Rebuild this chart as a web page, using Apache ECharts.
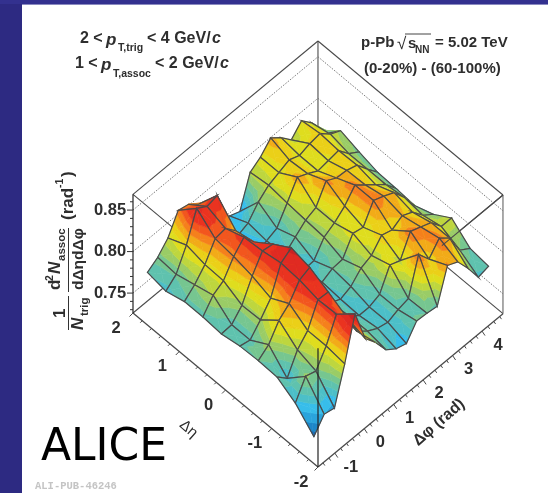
<!DOCTYPE html>
<html><head><meta charset="utf-8">
<style>html,body{margin:0;padding:0;background:#fff}#c{width:548px;height:493px}</style>
<script src="https://cdn.jsdelivr.net/npm/echarts@6/dist/echarts.min.js"></script>
</head><body><div id="c"></div>
<script>
// ---- data ----
var etaValues = [1.8,1.4,1.0,0.6,0.2,-0.2,-0.6,-1.0,-1.4,-1.8];
var phiValues = [-1.396,-1.047,-0.698,-0.349,0,0.349,0.698,1.047,1.396,1.745,2.094,2.443,2.793,3.142,3.491,3.84,4.189,4.538];
var zEta0 = [.779,.787,.800,.823,.820,.810,.785,.768,.765,.760,.797,.805,.818,.808,.795,.808,.795,.771];
var zEta1 = [.775,.785,.810,.844,.836,.839,.777,.770,.775,.790,.800,.805,.810,.805,.809,.811,.800,.794];
var zEta2 = [.781,.791,.805,.826,.828,.815,.775,.768,.772,.777,.797,.818,.812,.805,.807,.809,.795,.787];
var zEta3 = [.781,.797,.804,.823,.836,.820,.780,.772,.775,.785,.795,.800,.822,.815,.814,.810,.795,.781];
var zEta4 = [.779,.780,.793,.818,.838,.836,.790,.775,.774,.775,.793,.800,.810,.825,.815,.805,.795,.780];
var zEta5 = [.783,.780,.794,.810,.842,.850,.800,.778,.778,.784,.785,.806,.803,.825,.820,.814,.798,.778];
var zEta6 = [.784,.793,.812,.822,.840,.845,.800,.782,.776,.781,.793,.798,.812,.808,.815,.809,.795,.786];
var zEta7 = [.783,.771,.795,.808,.835,.834,.800,.785,.775,.775,.780,.805,.800,.825,.820,.815,.800,.800];
var zEta8 = [.770,.792,.788,.808,.836,.822,.795,.785,.778,.775,.780,.783,.826,.810,.825,.815,.790,.782];
var zEta9 = [.748,.765,.762,.805,.855,.815,.800,.781,.772,.768,.785,.784,.782,.821,.815,.797,.776,.779];
var zRows = [zEta0,zEta1,zEta2,zEta3,zEta4,zEta5,zEta6,zEta7,zEta8,zEta9];
var zTicks = [0.75,0.80,0.85];
var etaTicks = [2,1,0,-1,-2];
var phiTicks = [-1,0,1,2,3,4];
var bandLevels = [.752,.758,.765,.772,.778,.784,.790,.796,.802,.808,.814,.820,.826,.832,.840,.848];
var bandColors = ['#1668b0','#1d86c8','#2aa4dc','#37bdea','#4cbfc8','#5fc2ae','#76c690','#9acc66','#bed63e','#dfdd1e','#ebd018','#f2ab18','#f5801c','#f2561e','#ea3320','#e02a22','#c92323'];

// ---- scene scales (data to picture) ----
var etaMax=2, phiMin=-Math.PI/2, zMin=0.726, zMax=0.869;
function project(eta,phi,z){
  var a=etaMax-eta, b=phi-phiMin;
  return [133+a*46.25+b*29.44, 313+a*38.5-b*24.4-(z-zMin)*830];
}
var phiMax=phiMin+2*Math.PI, etaMin=-2;
var ink='#4a4a4a', textInk='#2e2e2e';
function seg(api,a,b,o){
  var p=api.coord(a),q=api.coord(b);
  return {type:'line',shape:{x1:p[0],y1:p[1],x2:q[0],y2:q[1]},style:{stroke:(o&&o.c)||ink,lineWidth:(o&&o.w)||1.1,lineDash:o&&o.d}};
}
// clip a polygon with per-vertex z to lo<=z<=hi
function clip(poly,lo,hi){
  function cut(pts,lim,keepAbove){
    var out=[];
    for(var k=0;k<pts.length;k++){
      var A=pts[k],B=pts[(k+1)%pts.length];
      var ia=keepAbove?A[2]>=lim:A[2]<=lim, ib=keepAbove?B[2]>=lim:B[2]<=lim;
      if(ia)out.push(A);
      if(ia!==ib){var t=(lim-A[2])/(B[2]-A[2]);out.push([A[0]+t*(B[0]-A[0]),A[1]+t*(B[1]-A[1]),lim]);}
    }
    return out;
  }
  var r=poly;
  if(lo!==null)r=cut(r,lo,true);
  if(r.length&&hi!==null)r=cut(r,hi,false);
  return r;
}
var cells=[];
for(var ci=0;ci<etaValues.length-1;ci++)for(var cj=phiValues.length-2;cj>=0;cj--)cells.push([ci,cj]);

function renderCell(params,api){
  var i=api.value(0),j=api.value(1);
  var corners=[[i,j],[i+1,j],[i+1,j+1],[i,j+1]];
  var quad=corners.map(function(c){
    var z=zRows[c[0]][c[1]];
    var s=api.coord(project(etaValues[c[0]],phiValues[c[1]],z));
    return [s[0],s[1],z];
  });
  var kids=[];
  var cx=(quad[0][0]+quad[1][0]+quad[2][0]+quad[3][0])/4, cy=(quad[0][1]+quad[1][1]+quad[2][1]+quad[3][1])/4, cz=(quad[0][2]+quad[1][2]+quad[2][2]+quad[3][2])/4;
  var tris=[];
  for(var k=0;k<4;k++)tris.push([quad[k],quad[(k+1)%4],[cx,cy,cz]]);
  tris.forEach(function(t){
    for(var b=0;b<bandColors.length;b++){
      var lo=b===0?null:bandLevels[b-1], hi=b===bandColors.length-1?null:bandLevels[b];
      var pg=clip(t,lo,hi);
      if(pg.length>=3){
        kids.push({type:'polygon',shape:{points:pg.map(function(p){return [p[0],p[1]];})},
          style:{fill:bandColors[b],stroke:bandColors[b],lineWidth:0.6}});
      }
    }
  });
  kids.push({type:'polygon',shape:{points:quad.map(function(p){return [p[0],p[1]];})},style:{fill:'none',stroke:'#4a4a4a',lineWidth:1.2}});
  return {type:'group',children:kids};
}
function renderBack(params,api){
  var k=[];
  var L=project(etaMax,phiMin,zMin),Lt=project(etaMax,phiMin,zMax);
  var B=project(etaMax,phiMax,zMin),Bt=project(etaMax,phiMax,zMax);
  var R=project(etaMin,phiMax,zMin),Rt=project(etaMin,phiMax,zMax);
  var Ft=project(etaMin,phiMin,zMax);
  k.push(seg(api,Lt,Bt),seg(api,Bt,Rt),seg(api,B,Bt),seg(api,L,B),seg(api,B,R));
  k.push(seg(api,Lt,Ft),seg(api,Rt,Ft));
  zTicks.forEach(function(z){
    k.push(seg(api,project(etaMax,phiMin,z),project(etaMax,phiMax,z),{c:'#777',w:1,d:[1.5,1.5]}));
    k.push(seg(api,project(etaMax,phiMax,z),project(etaMin,phiMax,z),{c:'#777',w:1,d:[1.5,1.5]}));
  });
  return {type:'group',children:k};
}
function label(api,text,a,dx,dy,size,o){
  var p=api.coord(a);
  o=o||{};
  return {type:'text',x:p[0]+dx,y:p[1]+dy,rotation:o.rot||0,style:{text:text,fill:o.c||textInk,font:(o.font||'bold')+' '+size+'px "Liberation Sans", Arial, sans-serif',align:o.align||'center',verticalAlign:'middle'}};
}
function renderFront(params,api){
  var k=[];
  var L=project(etaMax,phiMin,zMin),F=project(etaMin,phiMin,zMin),R=project(etaMin,phiMax,zMin);
  var Lt=project(etaMax,phiMin,zMax),Rt=project(etaMin,phiMax,zMax),Ft=project(etaMin,phiMin,zMax);
  k.push(seg(api,L,F,{w:1.3}),seg(api,F,R,{w:1.3}));
  k.push(seg(api,Lt,L,{c:'#222',w:1.2}),seg(api,Ft,F,{c:'#222',w:1.2}),seg(api,Rt,R,{c:'#555',w:1}));
  k.push(seg(api,Rt,[Rt[0]+(Ft[0]-Rt[0])*0.33,Rt[1]+(Ft[1]-Rt[1])*0.33]));
  for(var m=0;m<=14;m++){
    var z=0.73+m*0.01;
    if(z>zMax)break;
    var major=m%5===2;
    var p=project(etaMax,phiMin,z);
    k.push(seg(api,p,[p[0]-(major?6:3),p[1]],{c:'#333',w:1}));
  }
  zTicks.forEach(function(z){k.push(label(api,z.toFixed(2),project(etaMax,phiMin,z),-23,0,16.5));});
  for(var e=-10;e<=10;e++){
    var pe=project(e*0.2,phiMin,zMin),maj=e%5===0;
    k.push(seg(api,pe,[pe[0]-(maj?3.5:2),pe[1]+(maj?3.5:2)],{w:1}));
  }
  etaTicks.forEach(function(e){k.push(label(api,String(e),project(e,phiMin,zMin),-17,15,16.5));});
  for(var f=-7;f<=23;f++){
    var pf=project(etaMin,f*0.2,zMin),mj=f%5===0;
    k.push(seg(api,pf,[pf[0]+(mj?3:1.8),pf[1]+(mj?4.5:2.7)],{w:1}));
  }
  phiTicks.forEach(function(f){k.push(label(api,String(f),project(etaMin,f,zMin),16,14,16.5));});
  k.push(label(api,'Δη',project(0,phiMin,zMin),-37,39,15,{rot:-0.72,font:'normal'}));
  k.push(label(api,'Δφ (rad)',project(etaMin,2.3,zMin),7,50,16,{rot:0.72}));
  return {type:'group',children:k};
}
function plainText(text,x,y,size,o){
  o=o||{};
  return {type:'text',x:x,y:y,rotation:o.rot||0,z:20,silent:true,style:{text:text,fill:o.c||textInk,font:(o.st||'')+' '+(o.w||'bold')+' '+size+'px '+(o.fam||'"Liberation Sans", Arial, sans-serif'),align:o.align||'left',verticalAlign:'middle'}};
}
var R90=Math.PI/2;
var graphics=[
  {type:'rect',shape:{x:0,y:0,width:22,height:493},style:{fill:'#2d2a82'},z:0},
  {type:'rect',shape:{x:0,y:0,width:548,height:4},style:{fill:'#33318f'},z:0},
  {type:'rect',shape:{x:22,y:4,width:526,height:1},style:{fill:'#8a8ac0'},z:0},
  plainText('2 <',80,39,16),plainText('p',106,40,17,{st:'italic'}),plainText('T,trig',118,48,10.5),plainText('< 4 GeV/',147,39,16),plainText('c',212,39,16,{st:'italic'}),
  plainText('1 <',75,64,16),plainText('p',101,65,17,{st:'italic'}),plainText('T,assoc',113,74,10.5),plainText('< 2 GeV/',155,64,16),plainText('c',220,64,16,{st:'italic'}),
  plainText('p-Pb',361,43,15),plainText('√',397,44,17,{w:'normal'}),plainText('s',408,44,15),plainText('NN',415,50,10),plainText('= 5.02 TeV',435,43,15),
  {type:'line',shape:{x1:405,y1:34,x2:431,y2:34},style:{stroke:'#444',lineWidth:1},z:20},
  plainText('(0-20%) - (60-100%)',364,69,15),
  plainText('(rad',68,220,17,{rot:R90}),plainText('-1',60,188,10.5,{rot:R90}),plainText(')',68,177,17,{rot:R90}),
  plainText('d',55,290,17,{rot:R90}),plainText('2',50,281,10.5,{rot:R90}),plainText('N',55,274,17,{rot:R90,st:'italic'}),plainText('assoc',62,261,11.5,{rot:R90}),
  plainText('dΔηdΔφ',79,290,15.5,{rot:R90}),
  {type:'rect',shape:{x:68,y:228,width:1,height:64},style:{fill:'#333'},z:20},
  plainText('1',60,318,17,{rot:R90}),
  {type:'rect',shape:{x:68,y:296,width:1,height:34},style:{fill:'#333'},z:20},
  plainText('N',78,330,17,{rot:R90,st:'italic'}),plainText('trig',85,316,11.5,{rot:R90}),
  plainText('ALICE',41,449,44,{w:'normal',c:'#000',fam:'"DejaVu Sans", sans-serif'}),
  plainText('ALI-PUB-46246',35,486,10.5,{c:'#c4c4c4',fam:'"Liberation Mono", monospace'})
];

var chart=echarts.init(document.getElementById('c'),null,{renderer:'canvas'});
chart.setOption({
  animation:false,
  backgroundColor:'#ffffff',
  grid:{left:0,right:0,top:0,bottom:0},
  xAxis:{type:'value',min:0,max:548,show:false},
  yAxis:{type:'value',min:0,max:493,inverse:true,show:false},
  graphic:graphics,
  series:[
    {type:'custom',name:'box',coordinateSystem:'cartesian2d',silent:true,data:[[0,0]],renderItem:renderBack,clip:false,z:2},
    {type:'custom',name:'surface',coordinateSystem:'cartesian2d',silent:true,data:cells,renderItem:renderCell,clip:false,z:3,encode:{x:0,y:1}},
    {type:'custom',name:'axes',coordinateSystem:'cartesian2d',silent:true,data:[[0,0]],renderItem:renderFront,clip:false,z:4}
  ]
});
</script></body></html>
